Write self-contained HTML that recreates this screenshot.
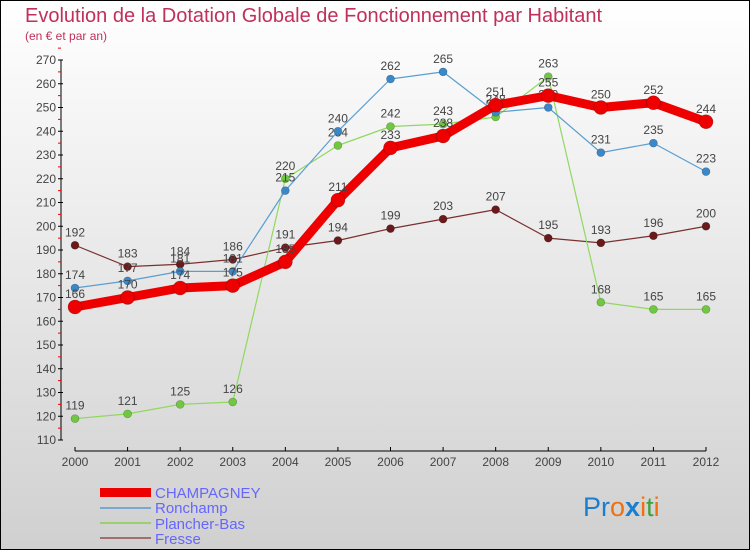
<!DOCTYPE html>
<html><head><meta charset="utf-8"><style>
body{margin:0}
#c{width:750px;height:550px;position:relative;overflow:hidden}
svg{display:block;font-family:"Liberation Sans","DejaVu Sans",sans-serif}
</style></head><body>
<div id="c">
<svg id="s" width="750" height="550">
<defs><linearGradient id="bg" x1="0" y1="0" x2="0" y2="1"><stop offset="0" stop-color="#ffffff"/><stop offset="1" stop-color="#d0d0d0"/></linearGradient></defs>
<rect x="0.5" y="0.5" width="749" height="549" fill="url(#bg)" stroke="#000"/>
<text x="25" y="22" font-size="20" fill="#c0305a">Evolution de la Dotation Globale de Fonctionnement par Habitant</text>
<text x="25" y="40" font-size="12" fill="#c0305a">(en € et par an)</text>
<g id="axes"></g><g id="series"></g>
<g>
<rect x="100" y="488" width="51" height="9" fill="#e00"/>
<text x="155" y="498" font-size="15" fill="#6666ff">CHAMPAGNEY</text>
<line x1="100" y1="508" x2="151" y2="508" stroke="#7aa8d0" stroke-width="2"/>
<text x="155" y="513" font-size="15" fill="#6666ff">Ronchamp</text>
<line x1="100" y1="523" x2="151" y2="523" stroke="#9ad070" stroke-width="2"/>
<text x="155" y="529" font-size="15" fill="#6666ff">Plancher-Bas</text>
<line x1="100" y1="538" x2="151" y2="538" stroke="#a07070" stroke-width="2"/>
<text x="155" y="544" font-size="15" fill="#6666ff">Fresse</text>
</g>
<text x="583" y="516" font-size="27"><tspan fill="#1a7fd0">Pr</tspan><tspan fill="#f07010">o</tspan><tspan fill="#1a7fd0" font-weight="bold">x</tspan><tspan fill="#f07010">i</tspan><tspan fill="#40a040">t</tspan><tspan fill="#f07010">i</tspan></text>
</svg></div>
<script>
const years=[2000,2001,2002,2003,2004,2005,2006,2007,2008,2009,2010,2011,2012];
const yTicks=[110,120,130,140,150,160,170,180,190,200,210,220,230,240,250,260,270];
const champagney=[166,170,174,175,185,211,233,238,251,255,250,252,244];
const ronchamp=[174,177,181,181,215,240,262,265,248,250,231,235,223];
const plancherBas=[119,121,125,126,220,234,242,243,246,263,168,165,165];
const fresse=[192,183,184,186,191,194,199,203,207,195,193,196,200];
const NS="http://www.w3.org/2000/svg";
function xs(i){return 75+i*(706-75)/(years.length-1);}
function ys(v){return 440-(v-110)*(380/160);}
function mk(t,a,p){const e=document.createElementNS(NS,t);for(const k in a)e.setAttribute(k,a[k]);p.appendChild(e);return e;}
const ax=document.getElementById('axes');
let l=mk('line',{x1:61,y1:ys(270),x2:61,y2:ys(110),stroke:'#000'},ax);


yTicks.forEach(v=>{
 mk('line',{x1:58,y1:ys(v),x2:63,y2:ys(v),stroke:'#000'},ax);
 mk('line',{x1:58,y1:ys(v+5),x2:61,y2:ys(v+5),stroke:'#e00'},ax);
 const t=mk('text',{x:56,y:ys(v)+4,'font-size':12,fill:'#444','text-anchor':'end'},ax);
 t.textContent=v;
 
 
});
l=mk('line',{x1:75,y1:451,x2:706,y2:451,stroke:'#000'},ax);


years.forEach((y,i)=>{
 mk('line',{x1:xs(i),y1:447,x2:xs(i),y2:451,stroke:'#000'},ax);
 const t=mk('text',{x:xs(i),y:466,'font-size':12,fill:'#444','text-anchor':'middle'},ax);
 t.textContent=y;
 
 
});
const sg=document.getElementById('series');
function draw(vals,name,color,w,r,dot){
 const g=mk('g',{},sg);
 
 
 const p=mk('polyline',{points:vals.map((v,i)=>xs(i)+','+ys(v)).join(' '),fill:'none',stroke:color,'stroke-width':w,'stroke-linejoin':'round'},g);
 
 
 vals.forEach((v,i)=>{
  const c=mk('circle',{cx:xs(i),cy:ys(v),r:r,fill:dot,stroke:'rgba(0,0,0,0.3)','stroke-width':0.6},g);
  
  
  const t=mk('text',{x:xs(i),y:ys(v)-9,'font-size':12,fill:'#444','text-anchor':'middle'},g);
  t.textContent=v;
  
  
 });
}
draw(fresse,'fresse','#7a3030',1.2,4,'#6a1a1a');
draw(plancherBas,'plancher-bas','#90d860',1.2,4,'#70c840');
draw(ronchamp,'ronchamp','#5a9ed0',1.2,4,'#3a88c8');
draw(champagney,'champagney','#ee0000',9,7,'#ee0000');
</script>
</body></html>
